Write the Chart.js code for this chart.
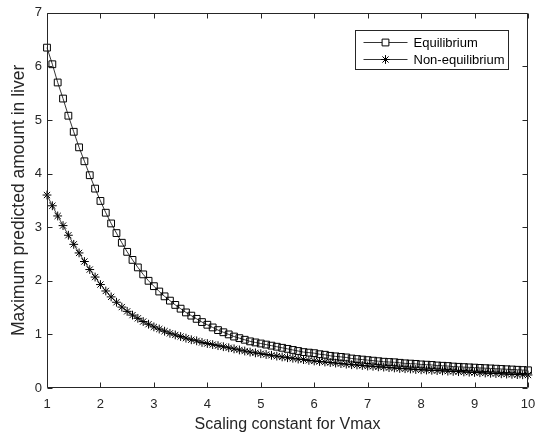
<!DOCTYPE html>
<html><head><meta charset="utf-8">
<script src="https://cdn.jsdelivr.net/npm/chart.js@4/dist/chart.umd.min.js"></script>
<style>html,body{margin:0;padding:0;background:#fff}#wrap{width:538px;height:437px}</style>
</head><body><div id="wrap"><canvas id="c" width="538" height="437"></canvas></div>
<script>
const xValues = [1.0,1.1,1.2,1.3,1.4,1.5,1.6,1.7,1.8,1.9,2.0,2.1,2.2,2.3,2.4,2.5,2.6,2.7,2.8,2.9,3.0,3.1,3.2,3.3,3.4,3.5,3.6,3.7,3.8,3.9,4.0,4.1,4.2,4.3,4.4,4.5,4.6,4.7,4.8,4.9,5.0,5.1,5.2,5.3,5.4,5.5,5.6,5.7,5.8,5.9,6.0,6.1,6.2,6.3,6.4,6.5,6.6,6.7,6.8,6.9,7.0,7.1,7.2,7.3,7.4,7.5,7.6,7.7,7.8,7.9,8.0,8.1,8.2,8.3,8.4,8.5,8.6,8.7,8.8,8.9,9.0,9.1,9.2,9.3,9.4,9.5,9.6,9.7,9.8,9.9,10.0];
const equilibrium = [6.35,6.04,5.70,5.40,5.08,4.78,4.49,4.23,3.97,3.72,3.49,3.27,3.07,2.89,2.71,2.54,2.39,2.25,2.12,2.00,1.90,1.80,1.71,1.63,1.55,1.48,1.41,1.35,1.29,1.23,1.18,1.13,1.08,1.04,1.00,0.96,0.93,0.90,0.87,0.85,0.83,0.81,0.79,0.77,0.75,0.73,0.71,0.69,0.67,0.66,0.65,0.63,0.62,0.60,0.59,0.58,0.57,0.55,0.54,0.53,0.52,0.51,0.50,0.49,0.485,0.48,0.47,0.46,0.455,0.45,0.44,0.435,0.43,0.42,0.415,0.41,0.40,0.395,0.39,0.385,0.38,0.375,0.37,0.365,0.36,0.355,0.35,0.345,0.34,0.335,0.33];
const nonEquilibrium = [3.60,3.40,3.21,3.03,2.85,2.68,2.52,2.36,2.21,2.07,1.93,1.81,1.70,1.60,1.51,1.43,1.36,1.30,1.24,1.19,1.14,1.10,1.06,1.02,0.99,0.96,0.93,0.90,0.88,0.85,0.83,0.81,0.79,0.77,0.75,0.73,0.71,0.69,0.67,0.655,0.64,0.625,0.61,0.595,0.58,0.565,0.555,0.54,0.53,0.515,0.505,0.495,0.485,0.475,0.465,0.455,0.445,0.435,0.43,0.42,0.41,0.405,0.395,0.39,0.38,0.375,0.365,0.36,0.355,0.345,0.34,0.335,0.33,0.325,0.32,0.315,0.31,0.305,0.30,0.295,0.29,0.285,0.28,0.275,0.27,0.265,0.26,0.255,0.25,0.247,0.243];
const seriesNames = ['Equilibrium','Non-equilibrium'];
const xTicks = [1,2,3,4,5,6,7,8,9,10];
const yTicks = [0,1,2,3,4,5,6,7];
const xTitle = 'Scaling constant for Vmax';
const yTitle = 'Maximum predicted amount in liver';

const FONT = "'Liberation Sans', Arial, Helvetica, sans-serif";
const AX = '#262626';

const toPts = arr => arr.map((v, i) => ({x: xValues[i], y: v}));

const framePlugin = {
  id: 'frame',
  afterDatasetsDraw(chart) {
    const {ctx, chartArea: a, scales: {x, y}} = chart;
    ctx.save();
    ctx.strokeStyle = AX; ctx.lineWidth = 1;
    const L = Math.round(a.left) + 0.5, R = Math.round(a.right) - 0.5;
    const T = Math.round(a.top) + 0.5, B = Math.round(a.bottom) - 0.5;
    ctx.beginPath();
    ctx.rect(L, T, R - L, B - T);
    const tl = 5;
    xTicks.forEach(v => {
      const px = Math.round(x.getPixelForValue(v)) + 0.5;
      ctx.moveTo(px, B); ctx.lineTo(px, B - tl);
      ctx.moveTo(px, T); ctx.lineTo(px, T + tl);
    });
    yTicks.forEach(v => {
      const py = Math.round(y.getPixelForValue(v)) + 0.5;
      ctx.moveTo(L, py); ctx.lineTo(L + tl, py);
      ctx.moveTo(R, py); ctx.lineTo(R - tl, py);
    });
    ctx.stroke();
    ctx.restore();
  },
  afterDraw(chart) {
    const {ctx, chartArea: a} = chart;
    const bw = 153, bh = 39;
    const bx = Math.round(a.right) - 20 - bw + 0.5, by = Math.round(a.top) + 17 + 0.5;
    ctx.save();
    ctx.fillStyle = '#fff'; ctx.strokeStyle = AX; ctx.lineWidth = 1;
    ctx.fillRect(bx, by, bw, bh); ctx.strokeRect(bx, by, bw, bh);
    ctx.font = '13px ' + FONT;
    ctx.textBaseline = 'middle'; ctx.textAlign = 'left';
    chart.data.datasets.forEach((ds, i) => {
      const cy = Math.round(by + 11 + i * 17) + 0.5;
      ctx.strokeStyle = '#000'; ctx.lineWidth = 0.8;
      ctx.beginPath(); ctx.moveTo(bx + 8, cy); ctx.lineTo(bx + 52, cy); ctx.stroke();
      ctx.lineWidth = 1;
      Chart.helpers.drawPoint(ctx, {pointStyle: ds.pointStyle, radius: ds.pointRadius, borderWidth: 1, rotation: 0}, bx + 30, cy);
      ctx.fillStyle = '#000';
      ctx.fillText(ds.label, bx + 58, cy + 0.5);
    });
    ctx.restore();
  }
};

new Chart(document.getElementById('c'), {
  type: 'line',
  data: {
    datasets: [
      {label: seriesNames[0], data: toPts(equilibrium), borderColor: '#000', borderWidth: 0.8,
       pointStyle: 'rect', pointRadius: 4.8, pointBorderColor: '#000', pointBackgroundColor: 'rgba(0,0,0,0)',
       pointBorderWidth: 1, tension: 0, clip: false},
      {label: seriesNames[1], data: toPts(nonEquilibrium), borderColor: '#000', borderWidth: 0.8,
       pointStyle: 'star', pointRadius: 4.4, pointBorderColor: '#000', pointBackgroundColor: 'rgba(0,0,0,0)',
       pointBorderWidth: 1, tension: 0, clip: false}
    ]
  },
  options: {
    responsive: false, animation: false, devicePixelRatio: 1,
    layout: {padding: {left: 0, right: 10, top: 12, bottom: 0}},
    plugins: {legend: {display: false}, tooltip: {enabled: false}},
    scales: {
      x: {
        type: 'linear', min: 1, max: 10,
        afterFit: s => { s.height = 49; s.paddingLeft = 0; s.paddingRight = 10; },
        afterBuildTicks: s => { s.ticks = xTicks.map(v => ({value: v})); },
        grid: {display: false, drawTicks: false},
        border: {display: false},
        ticks: {color: AX, font: {family: FONT, size: 13}, padding: 9, maxRotation: 0, autoSkip: false},
        title: {display: true, text: xTitle, color: AX, font: {family: FONT, size: 16}, padding: {top: 2, bottom: 3}}
      },
      y: {
        type: 'linear', min: 0, max: 7,
        afterFit: s => { s.width = 47; },
        afterBuildTicks: s => { s.ticks = yTicks.map(v => ({value: v})); },
        grid: {display: false, drawTicks: false},
        border: {display: false},
        ticks: {color: AX, font: {family: FONT, size: 13}, padding: 5},
        title: {display: true, text: yTitle, color: AX, font: {family: FONT, size: 17.5}, padding: {top: 9, bottom: 2}}
      }
    }
  },
  plugins: [framePlugin]
});
</script></body></html>
